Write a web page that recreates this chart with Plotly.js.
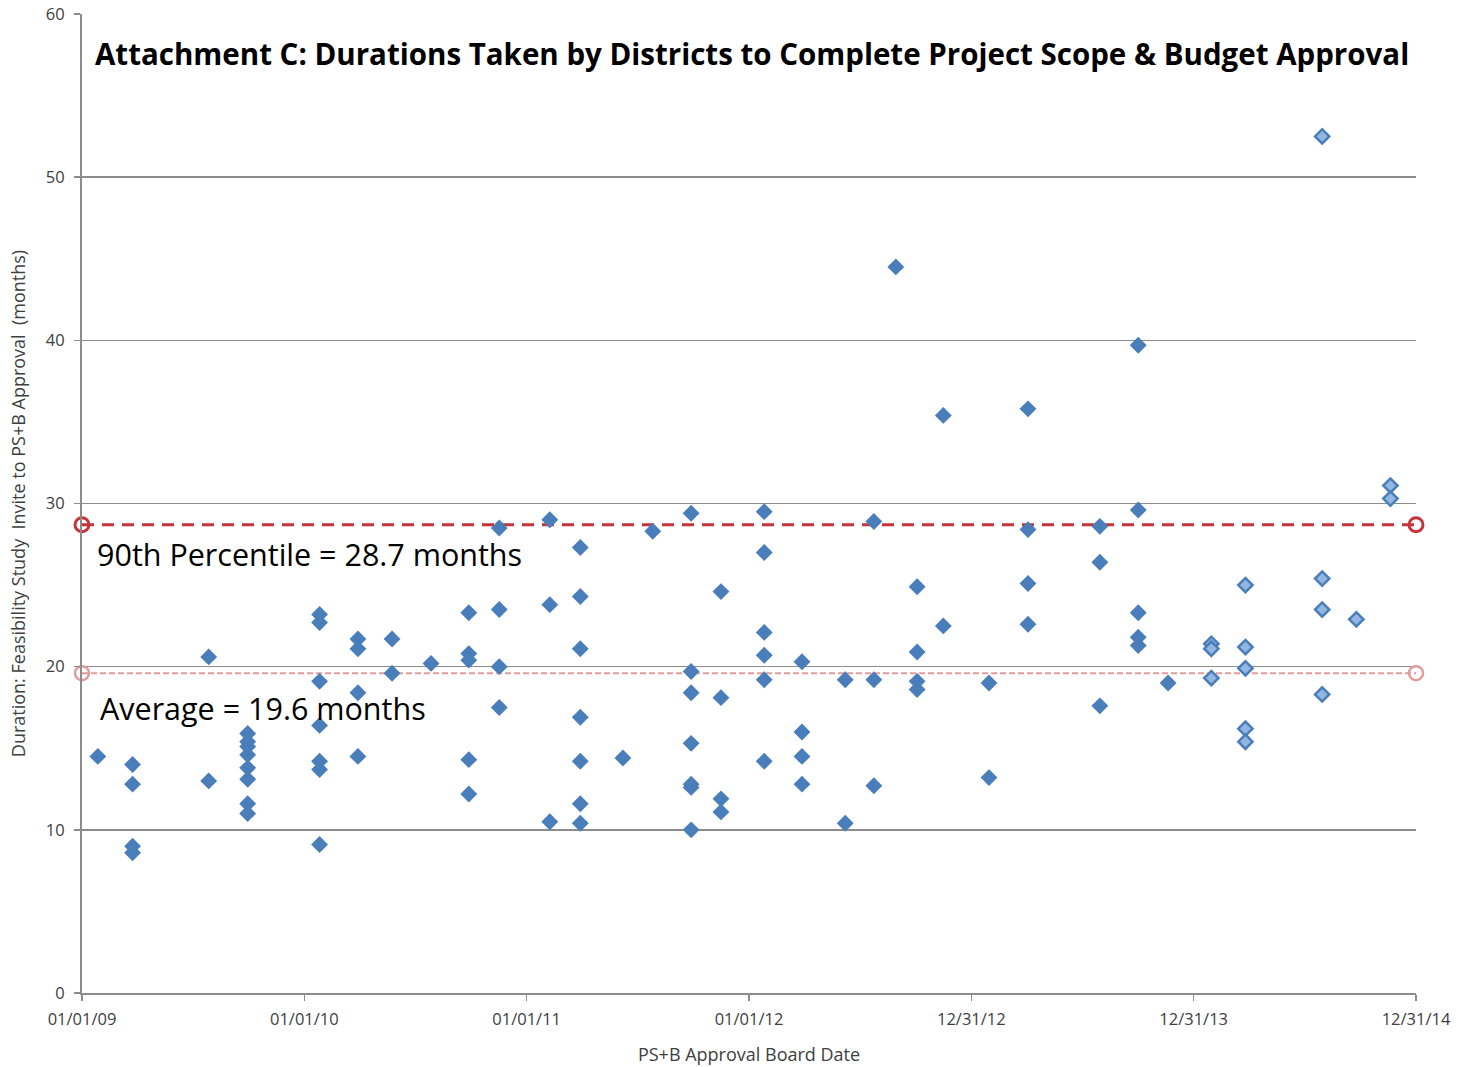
<!DOCTYPE html>
<html>
<head>
<meta charset="utf-8">
<script src="https://cdn.plot.ly/plotly-3.0.1.min.js"></script>
<style>
  html, body { margin: 0; padding: 0; background: #ffffff; }
  #chart { width: 1462px; height: 1067px; }
</style>
</head>
<body>
<div id="chart"></div>
<script>
// ---- Data ----
// Approved projects 2009-2013 (solid diamonds)
const darkDates = [
  '2009-01-27',
  '2009-03-25','2009-03-25','2009-03-25','2009-03-25',
  '2009-07-28','2009-07-28',
  '2009-09-30','2009-09-30','2009-09-30','2009-09-30','2009-09-30','2009-09-30','2009-09-30','2009-09-30',
  '2010-01-26','2010-01-26','2010-01-26','2010-01-26','2010-01-26','2010-01-26','2010-01-26',
  '2010-03-30','2010-03-30','2010-03-30','2010-03-30',
  '2010-05-25','2010-05-25',
  '2010-07-28',
  '2010-09-28','2010-09-28','2010-09-28','2010-09-28','2010-09-28',
  '2010-11-17','2010-11-17','2010-11-17','2010-11-17',
  '2011-02-08','2011-02-08','2011-02-08',
  '2011-03-30','2011-03-30','2011-03-30','2011-03-30','2011-03-30','2011-03-30','2011-03-30',
  '2011-06-08',
  '2011-07-27',
  '2011-09-28','2011-09-28','2011-09-28','2011-09-28','2011-09-28','2011-09-28','2011-09-28',
  '2011-11-16','2011-11-16','2011-11-16','2011-11-16',
  '2012-01-26','2012-01-26','2012-01-26','2012-01-26','2012-01-26','2012-01-26',
  '2012-03-28','2012-03-28','2012-03-28','2012-03-28',
  '2012-06-07','2012-06-07',
  '2012-07-24','2012-07-24','2012-07-24',
  '2012-08-29',
  '2012-10-03','2012-10-03','2012-10-03','2012-10-03',
  '2012-11-15','2012-11-15',
  '2013-01-29','2013-01-29',
  '2013-04-03','2013-04-03','2013-04-03','2013-04-03',
  '2013-07-30','2013-07-30','2013-07-30',
  '2013-10-01','2013-10-01','2013-10-01','2013-10-01','2013-10-01',
  '2013-11-19'
];
const darkMonths = [
  14.5,
  14.0, 12.8, 9.0, 8.6,
  20.6, 13.0,
  15.9, 15.4, 15.1, 14.6, 13.8, 13.1, 11.6, 11.0,
  23.2, 22.7, 19.1, 16.4, 14.2, 13.7, 9.1,
  21.7, 21.1, 18.4, 14.5,
  21.7, 19.6,
  20.2,
  23.3, 20.8, 20.4, 14.3, 12.2,
  28.5, 23.5, 20.0, 17.5,
  29.0, 23.8, 10.5,
  27.3, 24.3, 21.1, 16.9, 14.2, 11.6, 10.4,
  14.4,
  28.3,
  29.4, 19.7, 18.4, 15.3, 12.8, 12.6, 10.0,
  24.6, 18.1, 11.9, 11.1,
  29.5, 27.0, 22.1, 20.7, 19.2, 14.2,
  20.3, 16.0, 14.5, 12.8,
  19.2, 10.4,
  28.9, 19.2, 12.7,
  44.5,
  24.9, 20.9, 19.1, 18.6,
  35.4, 22.5,
  19.0, 13.2,
  35.8, 28.4, 25.1, 22.6,
  28.6, 26.4, 17.6,
  39.7, 29.6, 23.3, 21.8, 21.3,
  19.0
];
// 2014 projects (light diamonds)
const lightDates = [
  '2014-01-29','2014-01-29','2014-01-29',
  '2014-03-26','2014-03-26','2014-03-26','2014-03-26','2014-03-26',
  '2014-07-30','2014-07-30','2014-07-30','2014-07-30',
  '2014-09-24',
  '2014-11-19','2014-11-19'
];
const lightMonths = [
  21.4, 21.1, 19.3,
  25.0, 21.2, 19.9, 16.2, 15.4,
  52.5, 25.4, 23.5, 18.3,
  22.9,
  31.1, 30.3
];
// Reference lines
const refLineDates = ['2009-01-01', '2014-12-31'];
const percentile90 = 28.7;
const averageMonths = 19.6;
// Axis ticks
const xTickVals = ['2009-01-01','2010-01-01','2011-01-01','2012-01-01','2012-12-31','2013-12-31','2014-12-31'];
const xTickText = ['01/01/09','01/01/10','01/01/11','01/01/12','12/31/12','12/31/13','12/31/14'];
const yTickVals = [0, 10, 20, 30, 40, 50, 60];

const FONT = 'Open Sans, Noto Sans, sans-serif';

const traces = [
  {
    x: refLineDates, y: refLineDates.map(() => averageMonths),
    type: 'scatter', mode: 'lines+markers', cliponaxis: false,
    line: { color: '#e39c9c', width: 2, dash: '6px,3px' },
    marker: { symbol: 'circle-open', size: 14, color: '#e39c9c', line: { width: 2.5, color: '#e39c9c' } },
    hoverinfo: 'skip', showlegend: false
  },
  {
    x: refLineDates, y: refLineDates.map(() => percentile90),
    type: 'scatter', mode: 'lines+markers', cliponaxis: false,
    line: { color: '#c6343a', width: 3, dash: '12px,8px' },
    marker: { symbol: 'circle-open', size: 14, color: '#c6343a', line: { width: 3, color: '#c6343a' } },
    hoverinfo: 'skip', showlegend: false
  },
  {
    x: darkDates, y: darkMonths,
    type: 'scatter', mode: 'markers', cliponaxis: false,
    marker: { symbol: 'diamond', size: 13, color: '#4a7ebb', line: { width: 0 } },
    showlegend: false
  },
  {
    x: lightDates, y: lightMonths,
    type: 'scatter', mode: 'markers', cliponaxis: false,
    marker: { symbol: 'diamond', size: 11, color: '#93b6e0', line: { width: 2.5, color: '#4a7ebb' } },
    showlegend: false
  }
];

const layout = {
  width: 1462, height: 1067,
  margin: { l: 82, r: 46, t: 14, b: 74 },
  paper_bgcolor: '#ffffff', plot_bgcolor: '#ffffff',
  font: { family: FONT, color: '#404040' },
  title: {
    text: 'Attachment C: Durations Taken by Districts to Complete Project Scope & Budget Approval',
    font: { family: FONT, size: 29.5, color: '#000000', weight: 'bold' },
    xref: 'container', yref: 'container', x: 0.065, xanchor: 'left', y: 0.949, yanchor: 'middle'
  },
  xaxis: {
    type: 'date',
    range: ['2009-01-01', '2014-12-31'],
    tickmode: 'array', tickvals: xTickVals, ticktext: xTickText,
    tickfont: { family: FONT, size: 16.5, color: '#404040' },
    ticks: 'outside', ticklen: 6, tickcolor: '#8c8c8c', tickwidth: 1.5,
    ticklabelstandoff: 4,
    showgrid: false, zeroline: false,
    showline: true, linecolor: '#8c8c8c', linewidth: 2,
    title: { text: 'PS+B Approval Board Date', font: { family: FONT, size: 18, color: '#404040' }, standoff: 20 }
  },
  yaxis: {
    range: [0, 60],
    tickmode: 'array', tickvals: yTickVals,
    tickfont: { family: FONT, size: 16.5, color: '#404040' },
    ticks: 'outside', ticklen: 6, tickcolor: '#8c8c8c', tickwidth: 1.5,
    ticklabelstandoff: 6,
    showgrid: true, gridcolor: '#8c8c8c', gridwidth: 1.5,
    zeroline: false,
    showline: true, linecolor: '#8c8c8c', linewidth: 2,
    title: { text: 'Duration: Feasibility Study&nbsp; Invite to PS+B Approval&nbsp; (months)', font: { family: FONT, size: 18, color: '#404040' }, standoff: 16 }
  },
  annotations: [
    {
      text: '90th Percentile = 28.7 months',
      xref: 'paper', yref: 'y', x: 0.0098, y: percentile90, xanchor: 'left', yanchor: 'top', yshift: -6,
      showarrow: false, font: { family: FONT, size: 30.5, color: '#000000' }
    },
    {
      text: 'Average = 19.6 months',
      xref: 'paper', yref: 'y', x: 0.012, y: averageMonths, xanchor: 'left', yanchor: 'top', yshift: -12,
      showarrow: false, font: { family: FONT, size: 30.5, color: '#000000' }
    }
  ]
};

Plotly.newPlot('chart', traces, layout, { displayModeBar: false, staticPlot: true });
</script>
</body>
</html>
